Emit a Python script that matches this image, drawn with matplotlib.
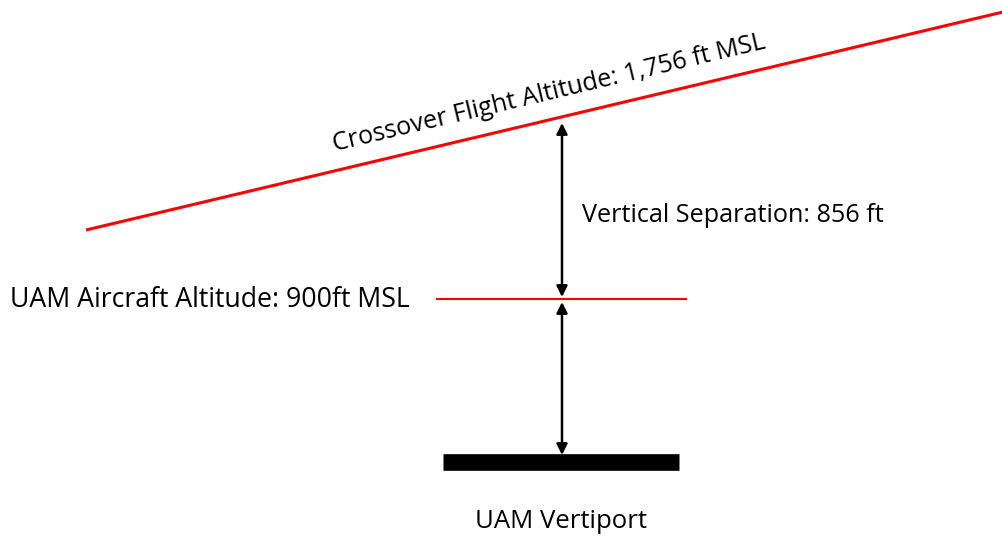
import matplotlib.pyplot as plt

plt.rcParams['font.family'] = ['Open Sans', 'DejaVu Sans']

# Diagram geometry (pixel-like coordinates, y grows downward)
crossover_x = [86, 1003]
crossover_y = [230, 12]
uam_x = [437, 686]
uam_y = [299, 299]
pad_x = [443, 679]
pad_y = [462, 462]
arrow_x = 562
upper_arrow = [123, 297]
lower_arrow = [302, 455]

labels = {
    'crossover': "Crossover Flight Altitude: 1,756 ft MSL",
    'separation': "Vertical Separation: 856 ft",
    'uam': "UAM Aircraft Altitude: 900ft MSL",
    'pad': "UAM Vertiport",
}

fig = plt.figure(figsize=(10.03, 5.38), dpi=100)
ax = fig.add_axes([0, 0, 1, 1])
ax.set_xlim(0, 1003)
ax.set_ylim(538, 0)
ax.axis('off')

ax.plot(crossover_x, crossover_y, color='#ff0000', lw=2.2, solid_capstyle='butt')
ax.plot(uam_x, uam_y, color='#ff0000', lw=1.5)
ax.plot(pad_x, pad_y, color='black', lw=12, solid_capstyle='butt')

for y0, y1 in [upper_arrow, lower_arrow]:
    ax.annotate('', xy=(arrow_x, y0), xytext=(arrow_x, y1),
                arrowprops=dict(arrowstyle='<|-|>', color='black', lw=1.8,
                                mutation_scale=16, shrinkA=0, shrinkB=0))

ax.text(549, 93, labels['crossover'], rotation=13.4, fontsize=18.2,
        ha='center', va='center', rotation_mode='anchor')
ax.text(582, 215, labels['separation'], fontsize=18.2, ha='left', va='center')
ax.text(10, 300, labels['uam'], fontsize=19.2, ha='left', va='center')
ax.text(561, 521, labels['pad'], fontsize=18.5, ha='center', va='center')

fig.savefig('out.png', dpi=100)
